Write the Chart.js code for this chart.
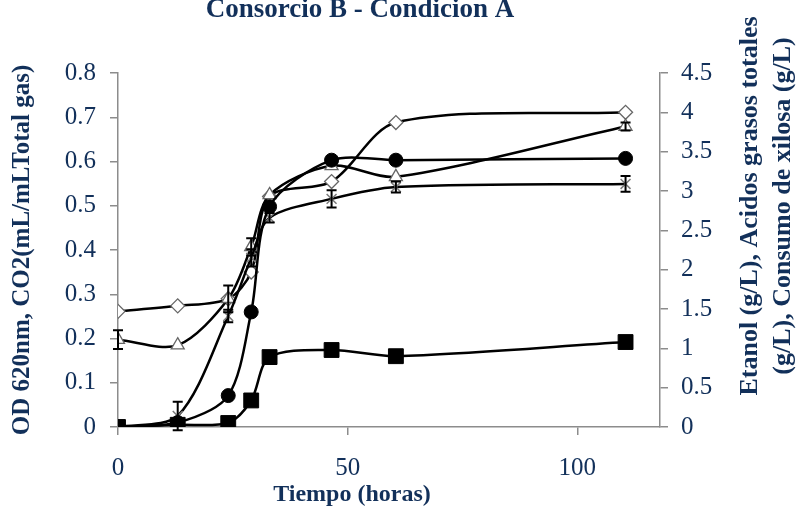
<!DOCTYPE html>
<html>
<head>
<meta charset="utf-8">
<script src="https://cdn.jsdelivr.net/npm/chart.js@4/dist/chart.umd.min.js"></script>
<style>
  html, body { margin: 0; padding: 0; background: #fff; }
  #wrap { width: 800px; height: 508px; }
</style>
</head>
<body>
<div id="wrap"><canvas id="c" width="800" height="508"></canvas></div>
<script>
// Sampling times (h)
const hours = [0, 13, 24, 29, 33, 46.5, 60.5, 110.5];

// Left axis: OD 620 nm and CO2 (mL/mL total gas)
const od620 = [0, 0.005, 0.009, 0.06, 0.158, 0.174, 0.16, 0.192];
const co2 = [0, 0.01, 0.071, 0.26, 0.498, 0.603, 0.603, 0.607];

// Right axis (g/L): xylose consumed, total fatty acids, ethanol
const xilosa = [1.47, 1.54, 1.63, 1.97, 2.93, 3.12, 3.87, 4.0];
const acidos = [1.11, 1.04, 1.63, 2.29, 2.95, 3.32, 3.18, 3.82];
const acidosErr = [0.12, 0, 0.17, 0.11, 0, 0, 0, 0.05];
const etanol = [0, 0.14, 1.41, 2.15, 2.66, 2.9, 3.05, 3.09];
const etanolErr = [0, 0.18, 0.08, 0.11, 0.06, 0.11, 0.07, 0.1];

const xTicks = [0, 50, 100];

const NAVY = '#12305a';
const AXIS = '#8c8c8c';
const SERIF = '"Liberation Serif", "Times New Roman", serif';

const pts = vals => vals.map((v, i) => ({ x: hours[i], y: v }));

// Vertical error bars with caps, drawn on the dataset's own y scale
const errorBars = {
  id: 'errorBars',
  afterDatasetsDraw(chart) {
    const ctx = chart.ctx;
    chart.data.datasets.forEach((ds, i) => {
      if (!ds.errors) return;
      const meta = chart.getDatasetMeta(i);
      const ys = chart.scales[ds.yAxisID];
      ctx.save();
      ctx.strokeStyle = '#000';
      ctx.lineWidth = 2;
      meta.data.forEach((el, j) => {
        const e = ds.errors[j];
        if (!e) return;
        const v = ds.data[j].y;
        const top = ys.getPixelForValue(v + e);
        const bot = ys.getPixelForValue(v - e);
        const x = el.x;
        ctx.beginPath();
        ctx.moveTo(x, top); ctx.lineTo(x, bot);
        ctx.moveTo(x - 5, top); ctx.lineTo(x + 5, top);
        ctx.moveTo(x - 5, bot); ctx.lineTo(x + 5, bot);
        ctx.stroke();
      });
      ctx.restore();
    });
  }
};

// Chart title, time axis title and the two-line right axis title (reads bottom to top)
const outerTitles = {
  id: 'outerTitles',
  afterDraw(chart) {
    const { ctx, chartArea } = chart;
    ctx.save();
    ctx.fillStyle = NAVY;
    ctx.textAlign = 'center';
    ctx.textBaseline = 'alphabetic';
    ctx.font = 'bold 27px ' + SERIF;
    ctx.fillText('Consorcio B - Condicion A', 360, 17);
    ctx.textBaseline = 'middle';
    ctx.font = 'bold 24px ' + SERIF;
    ctx.fillText('Tiempo (horas)', chartArea.left + 234, chart.height - 13);
    ctx.font = 'bold 26px ' + SERIF;
    ctx.translate(chartArea.right + 90, 206);
    ctx.rotate(-Math.PI / 2);
    ctx.fillText('Etanol (g/L), Acidos grasos totales', 0, 0);
    ctx.fillText('(g/L), Consumo de xilosa (g/L)', 0, 33);
    ctx.restore();
  }
};

const lineBase = {
  borderColor: '#000',
  borderWidth: 2.5,
  tension: 0.3,
  fill: false
};

const tickFont = { family: SERIF, size: 25 };
const fmt = v => String(+v.toFixed(2));

new Chart(document.getElementById('c'), {
  type: 'line',
  data: {
    datasets: [
      Object.assign({}, lineBase, {
        label: 'OD 620nm', data: pts(od620), yAxisID: 'yL',
        pointStyle: 'rect', pointRadius: 10.5, pointBackgroundColor: '#000',
        pointBorderColor: '#000', pointBorderWidth: 1
      }),
      Object.assign({}, lineBase, {
        label: 'CO2', data: pts(co2), yAxisID: 'yL',
        pointStyle: 'circle', pointRadius: 7, pointBackgroundColor: '#000',
        pointBorderColor: '#000', pointBorderWidth: 1
      }),
      Object.assign({}, lineBase, {
        label: 'Etanol', data: pts(etanol), yAxisID: 'yR', errors: etanolErr,
        pointStyle: 'crossRot', pointRadius: 7, pointBackgroundColor: '#fff',
        pointBorderColor: '#7a7a7a', pointBorderWidth: 1.5
      }),
      Object.assign({}, lineBase, {
        label: 'Acidos grasos totales', data: pts(acidos), yAxisID: 'yR', errors: acidosErr,
        pointStyle: 'triangle', pointRadius: 7.5, pointBackgroundColor: '#fff',
        pointBorderColor: '#666', pointBorderWidth: 1.3
      }),
      Object.assign({}, lineBase, {
        label: 'Consumo de xilosa', data: pts(xilosa), yAxisID: 'yR',
        pointStyle: 'rectRot', pointRadius: 7, pointBackgroundColor: '#fff',
        pointBorderColor: '#666', pointBorderWidth: 1.3
      })
    ]
  },
  options: {
    responsive: false,
    animation: false,
    events: [],
    layout: { padding: { top: 73 } },
    plugins: {
      legend: { display: false },
      tooltip: { enabled: false },
      title: { display: false }
    },
    scales: {
      x: {
        type: 'linear', position: 'bottom', min: 0, max: 118,
        afterBuildTicks: s => { s.ticks = xTicks.map(v => ({ value: v })); },
        afterFit: s => { s.height = 81; },
        ticks: { font: tickFont, color: NAVY, padding: 18, maxRotation: 0, callback: fmt },
        grid: { drawOnChartArea: false, drawTicks: true, tickLength: 8, color: AXIS, lineWidth: 1.5 },
        border: { color: AXIS, width: 1.5 }
      },
      yL: {
        type: 'linear', position: 'left', min: 0, max: 0.8,
        afterFit: s => { s.width = 118; },
        ticks: { stepSize: 0.1, font: tickFont, color: NAVY, padding: 14, callback: fmt },
        grid: { drawOnChartArea: false, tickLength: 8, color: AXIS, lineWidth: 1.5 },
        border: { color: AXIS, width: 1.5 },
        title: {
          display: true,
          text: 'OD 620nm, CO2(mL/mLTotal gas)',
          color: NAVY,
          font: { family: SERIF, size: 25, weight: 'bold', lineHeight: 1.2 },
          padding: { top: 8, bottom: 0 }
        }
      },
      yR: {
        type: 'linear', position: 'right', min: 0, max: 4.5,
        afterFit: s => { s.width = 140; },
        ticks: { stepSize: 0.5, font: tickFont, color: NAVY, padding: 13, callback: fmt },
        grid: { drawOnChartArea: false, tickLength: 8, color: AXIS, lineWidth: 1.5 },
        border: { color: AXIS, width: 1.5 }
      }
    }
  },
  plugins: [errorBars, outerTitles]
});
</script>
</body>
</html>
